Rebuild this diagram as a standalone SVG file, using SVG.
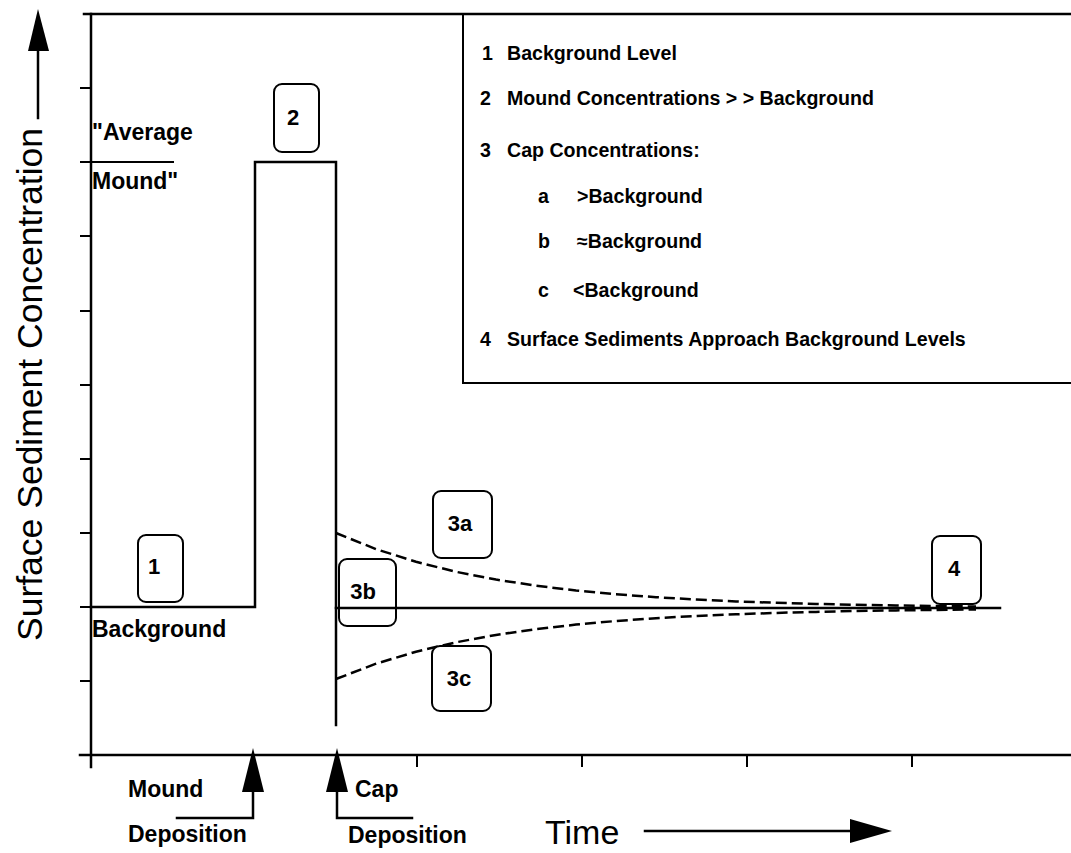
<svg xmlns="http://www.w3.org/2000/svg" width="1071" height="853" viewBox="0 0 1071 853">
<style>
.ax{stroke:#000;stroke-width:2.5;fill:none;stroke-linecap:square}
.tk{stroke:#000;stroke-width:2;fill:none}
.dash{stroke:#000;stroke-width:2.5;fill:none;stroke-dasharray:11 5}
.bx{fill:#fff;stroke:#000;stroke-width:2}
.ah{fill:#000;stroke:none}
.b{font-family:"Liberation Sans",Arial,sans-serif;font-weight:bold;fill:#000}
.lg{font-size:19.6px}
.ch{font-size:23px}
.nl{font-size:22px;text-anchor:middle}
.r{font-family:"Liberation Sans",Arial,sans-serif;fill:#000}
</style>
<rect width="1071" height="853" fill="#fff"/>
<g id="legend">
<rect x="463" y="14" width="640" height="369" fill="none" stroke="#000" stroke-width="2"/>
<text class="b lg" x="482" y="60">1</text><text class="b lg" x="507" y="60">Background Level</text>
<text class="b lg" x="480" y="105">2</text><text class="b lg" x="507" y="105">Mound Concentrations &gt; &gt; Background</text>
<text class="b lg" x="480" y="157">3</text><text class="b lg" x="507" y="157">Cap Concentrations:</text>
<text class="b lg" x="538" y="203">a</text><text class="b lg" x="577" y="203">&gt;Background</text>
<text class="b lg" x="538" y="248">b</text><text class="b lg" x="577" y="248">≈Background</text>
<text class="b lg" x="538" y="297">c</text><text class="b lg" x="573" y="297">&lt;Background</text>
<text class="b lg" x="480" y="346">4</text><text class="b lg" x="507" y="346">Surface Sediments Approach Background Levels</text>
</g>
<g id="connectors">
<path class="ax" d="M84,14 H1071"/>
<path class="ax" d="M91,14 V767"/>
<path class="ax" d="M80,755 H1071"/>
<path class="tk" d="M80,88 H91 M80,162 H174 M80,236 H91 M80,311 H91 M80,385 H91 M80,459 H91 M80,533 H91 M80,607 H91 M80,681 H91"/>
<path class="tk" d="M417,755 V767 M582,755 V767 M747,755 V767 M912,755 V767"/>
<path class="ax" d="M91,607 H255 V162 H336 V725"/>
<path class="ax" d="M336,608 H1000"/>
<path class="dash" d="M336,533 L376,549.1 L416,561.8 L456,571.8 L496,579.6 L536,585.7 L576,590.5 L616,594.3 L656,597.2 L696,599.5 L736,601.4 L776,602.8 L816,603.9 L856,604.8 L896,605.5 L936,606 L976,606.5"/>
<path class="dash" d="M336,679 L376,663.7 L416,651.7 L456,642.3 L496,634.9 L536,629.1 L576,624.6 L616,621 L656,618.2 L696,616 L736,614.3 L776,612.9 L816,611.9 L856,611 L896,610.4 L936,609.9 L976,609.4"/>
<path class="ax" d="M38,118 V45"/>
<polygon class="ah" points="38,9 49,51 28,51"/>
<path class="ax" d="M645,831 H855"/>
<polygon class="ah" points="892,831 850,819 850,843"/>
<polygon class="ah" points="253,748 264,792 242,792"/>
<path class="ax" d="M253,790 V818 H177"/>
<polygon class="ah" points="337,748 348,792 326,792"/>
<path class="ax" d="M337,790 V818 H412"/>
</g>
<g id="axis-labels">
<text class="r" font-size="35.5" transform="translate(42,641) rotate(-90)">Surface Sediment Concentration</text>
<text class="r" font-size="34" x="545" y="844">Time</text>
<text class="b ch" x="92" y="140">"Average</text>
<text class="b ch" x="92" y="189">Mound"</text>
<text class="b ch" x="92" y="637">Background</text>
<text class="b ch" x="128" y="797">Mound</text>
<text class="b ch" x="128" y="842">Deposition</text>
<text class="b ch" x="355" y="797">Cap</text>
<text class="b ch" x="348" y="843">Deposition</text>
</g>
<g id="n1"><rect class="bx" x="138" y="535" width="45" height="67" rx="8"/><text class="b nl" x="154" y="574">1</text></g>
<g id="n2"><rect class="bx" x="274" y="84" width="45" height="68" rx="8"/><text class="b nl" x="293" y="125">2</text></g>
<g id="n3a"><rect class="bx" x="433" y="491" width="59" height="67" rx="8"/><text class="b nl" x="460" y="531">3a</text></g>
<g id="n3b"><rect class="bx" x="339" y="559" width="57" height="67" rx="8" style="fill:none"/><text class="b nl" x="363" y="599">3b</text></g>
<g id="n3c"><rect class="bx" x="432" y="646" width="59" height="65" rx="8"/><text class="b nl" x="459" y="686">3c</text></g>
<g id="n4"><rect class="bx" x="932" y="536" width="49" height="68" rx="8"/><text class="b nl" x="954" y="576">4</text></g>
</svg>
